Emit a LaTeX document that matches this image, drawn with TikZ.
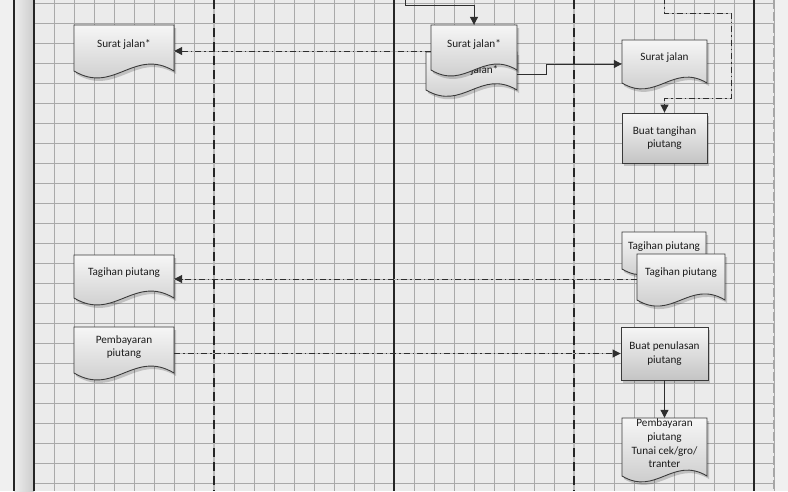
\documentclass[tikz,border=0pt]{standalone}
\usepackage{fontspec}
\setmainfont{Carlito}
\usetikzlibrary{arrows.meta,calc}
\definecolor{bgc}{HTML}{EBEBEB}
\definecolor{gridc}{HTML}{A9A9A9}
\definecolor{lanec}{HTML}{262626}
\definecolor{linec}{HTML}{2E2E2E}
\definecolor{dashgray}{HTML}{B8B8B8}
\definecolor{shapetop}{HTML}{F6F6F6}
\definecolor{shapebot}{HTML}{C4C4C4}
\definecolor{borderc}{HTML}{3A3A3A}
\definecolor{txtc}{HTML}{1C1C1C}
\tikzset{
  gl/.style={draw=gridc, line width=0.8pt},
  lanesolid/.style={draw=lanec, line width=1.2pt},
  lanegray/.style={draw=dashgray, line width=1.2pt},
  lanedash/.style={draw=lanec, line width=1.2pt, dash pattern=on 9pt off 5pt},
  lanefaint/.style={draw=dashgray!90!black, line width=1.2pt, dash pattern=on 9pt off 3pt},
  shapefill/.style={top color=shapetop, bottom color=shapebot, draw=borderc, line width=0.9pt},
  shapeshadow/.style={fill=black, opacity=0.18},
  txt/.style={inner sep=0pt, align=center, text=txtc, font=\fontsize{11.2}{13.7}\selectfont},
  rectnode/.style={txt, shapefill, rectangle},
  tip/.style={-{Triangle[length=8pt,width=8pt]}},
  conn/.style={draw=linec, line width=1pt},
  ddgray/.style={draw=dashgray, line width=1pt},
  dd/.style={draw=linec, line width=1pt, dash pattern=on 6pt off 3pt on 1.5pt off 3pt},
}
\newcommand\mydoc[7]{%
  \pgfmathsetmacro\dXa{#2-#4/2}\pgfmathsetmacro\dXb{#2+#4/2}%
  \pgfmathsetmacro\dYa{#3-#5/2}\pgfmathsetmacro\dYb{#3+#5/2+#6}%
  \pgfmathsetmacro\dCa{\dXa+0.4*#4}\pgfmathsetmacro\dCb{\dXb-0.4*#4}%
  \pgfmathsetmacro\dK{0.24*#4}%
  \pgfmathsetmacro\dYu{\dYb-\dK}\pgfmathsetmacro\dYd{\dYb+\dK}%
  \begin{scope}[shift={(2,3)}]
    \path[shapeshadow] (\dXa,\dYa) -- (\dXb,\dYa) -- (\dXb,\dYb) .. controls (\dCb,\dYu) and (\dCa,\dYd) .. (\dXa,\dYb) -- cycle;
  \end{scope}
  \path[shapefill] (\dXa,\dYa) -- (\dXb,\dYa) -- (\dXb,\dYb) .. controls (\dCb,\dYu) and (\dCa,\dYd) .. (\dXa,\dYb) -- cycle;
  \node[txt, minimum width=#4pt, minimum height=#5pt] (#1) at (#2,#3) {#7};
}
\newcommand\myrect[6]{%
  \fill[shapeshadow] (#2-#4/2+2,#3-#5/2+3) rectangle (#2+#4/2+2,#3+#5/2+3);
  \node[rectnode, minimum width=#4pt, minimum height=#5pt] (#1) at (#2,#3) {#6};
}
\begin{document}
\begin{tikzpicture}[x=1pt,y=-1pt]
\useasboundingbox (0,0) rectangle (788,491);
% backgrounds
\fill[color=white!94!black] (0,0) rectangle (788,491);
\shade[left color=white!93!black, right color=white!80!black] (14,0) rectangle (34,491);
\fill[bgc] (34,0) rectangle (774,491);
% grid
\foreach \i in {0,...,37} { \draw[gl] (34+20*\i,0) -- (34+20*\i,491); }
\foreach \j in {0,...,24} { \draw[gl] (34,3+20*\j) -- (774,3+20*\j); }
% lanes
\draw[lanesolid] (14,0) -- (14,491);
\draw[lanesolid] (34,0) -- (34,491);
\draw[lanesolid] (394,0) -- (394,491);
\draw[lanesolid] (754,0) -- (754,491);
\foreach \x in {214,574} {
  \draw[lanegray] (\x,0) -- (\x,491);
  \draw[lanedash] (\x,0) -- (\x,491);
}
\draw[lanefaint] (774,0) -- (774,491);
% left column
\mydoc{L1}{124}{44}{100}{38}{8}{Surat jalan*}
\mydoc{L2}{124}{273}{100}{36}{7}{Tagihan piutang}
\mydoc{L3}{124}{347}{100}{40}{6}{Pembayaran\\piutang}
% middle column
\mydoc{MB}{471.5}{70}{91}{36}{2}{Surat jalan*}
\mydoc{MF}{474}{44}{86}{38}{7}{Surat jalan*}
% right column
\mydoc{R1}{664.5}{58}{85}{36}{7}{Surat jalan}
\myrect{RT}{664.5}{138}{85}{50}{Buat tangihan\\piutang}
\mydoc{TB}{664}{247}{84}{30}{7}{Tagihan piutang}
\mydoc{TF}{681}{273}{88}{38}{8}{Tagihan piutang}
\myrect{PN}{664.5}{353.5}{87}{53}{Buat penulasan\\piutang}
\mydoc{PB}{664.5}{443.5}{85}{51}{7}{Pembayaran\\piutang\\Tunai cek/gro/\\tranter}
% connectors
\coordinate (t1) at (405,-2);
\draw[conn,tip] (t1) -- ++(0,7) -| (MF.north);
\draw[ddgray] ([yshift=-7pt]MF.west) -- ([yshift=-7pt]L1.east);
\draw[dd,tip] ([yshift=-7pt]MF.west) -- ([yshift=-7pt]L1.east);
\draw[conn,tip] ([yshift=-4pt]MB.east) -- ++(29,0) |- ([yshift=-6pt]R1.west);
\coordinate (t2) at (664.5,-2);
\coordinate (c1) at (731,13);
\coordinate (c2) at (731,98);
\draw[ddgray] (t2) |- (c1) -- (c2) -| (RT.north);
\draw[dd,tip] (t2) |- (c1) -- (c2) -| (RT.north);
\draw[ddgray] ([yshift=-6pt]TF.west) -- ([yshift=-6pt]L2.east);
\draw[dd,tip] ([yshift=-6pt]TF.west) -- ([yshift=-6pt]L2.east);
\draw[ddgray] ([yshift=-6.5pt]L3.east) -- (PN.west);
\draw[dd,tip] ([yshift=-6.5pt]L3.east) -- (PN.west);
\draw[conn,tip] (PN.south) -- (PB.north);
\end{tikzpicture}
\end{document}
